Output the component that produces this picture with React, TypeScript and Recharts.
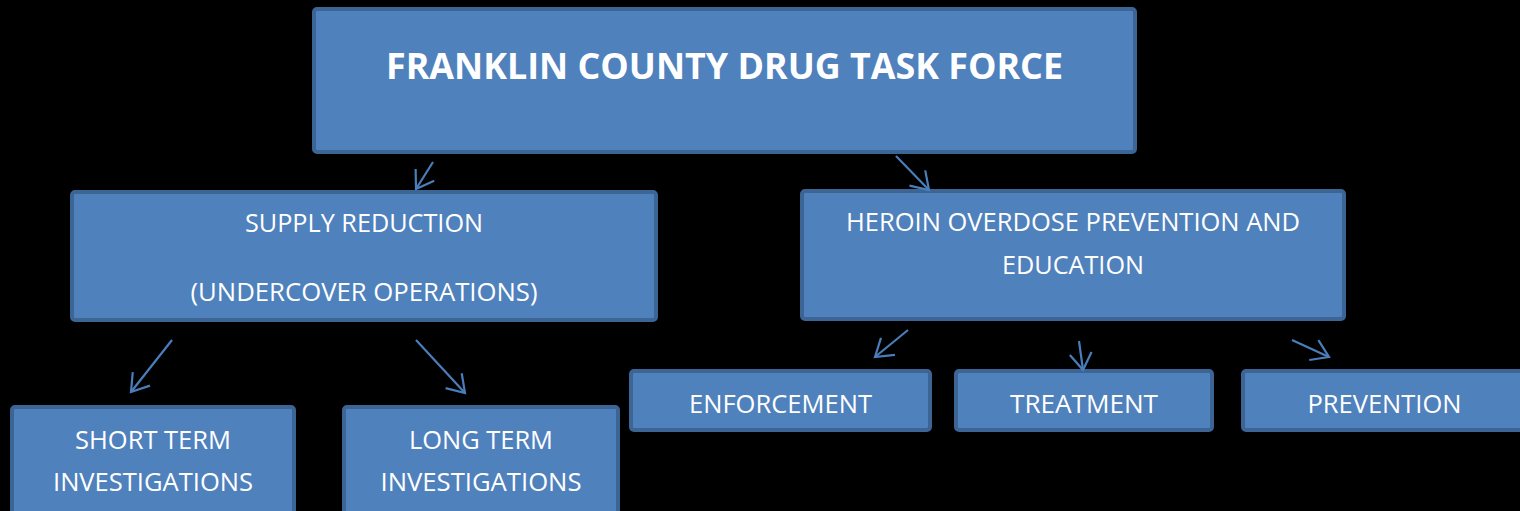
import React from 'react';
import {
  ScatterChart,
  Scatter,
  XAxis,
  YAxis,
  ReferenceArea,
  ReferenceLine,
} from 'recharts';

// org chart content
const nodeIds = ['root', 'supply', 'heroin', 'shortTerm', 'longTerm', 'enforcement', 'treatment', 'prevention'];
const nodeLines = [
  ['FRANKLIN COUNTY DRUG TASK FORCE'],
  ['SUPPLY REDUCTION', '(UNDERCOVER OPERATIONS)'],
  ['HEROIN OVERDOSE PREVENTION AND', 'EDUCATION'],
  ['SHORT TERM', 'INVESTIGATIONS'],
  ['LONG TERM', 'INVESTIGATIONS'],
  ['ENFORCEMENT'],
  ['TREATMENT'],
  ['PREVENTION'],
];
const nodeParents = [-1, 0, 0, 1, 1, 2, 2, 2];

// layout, in chart units (x: 0..1520, y: 0..511 top-down)
const boxes = [
  [314, 1135, 9, 152],
  [72, 656, 192, 320],
  [802, 1344, 191, 319],
  [12, 294, 407, 540],
  [344, 618, 407, 540],
  [631, 930, 371, 430],
  [956, 1212, 371, 430],
  [1243, 1526, 371, 430],
];
const lineY = [[65], [222, 291], [221, 264], [439, 481], [439, 481], [403], [403], [403]];
const lineWidth = [[677], [238, 347], [454, 142], [156, 200], [144, 201], [183], [148], [154]];
// arrow from parent to child, indexed by child
const arrowSegs: Record<number, number[]> = {
  1: [433, 162, 416, 189],
  2: [896, 156, 929, 190],
  3: [172, 340, 131, 392],
  4: [416, 340, 465, 393],
  5: [908, 330, 875, 357],
  6: [1079, 341, 1083, 370],
  7: [1292, 340, 1329, 357],
};

const FILL = '#4f81bd';
const BORDER = '#3c6494';
const ARROW = '#4a7ebb';

const labelData = nodeIds.flatMap((id, i) =>
  nodeLines[i].map((text, j) => ({
    id: `${id}-${j}`,
    x: (boxes[i][0] + boxes[i][1]) / 2,
    y: lineY[i][j],
    text,
    w: lineWidth[i][j],
    bold: i === 0,
  }))
);

const LabelShape = (props: any) => {
  const { cx, cy, payload } = props;
  return (
    <text
      x={cx}
      y={cy}
      textAnchor="middle"
      dominantBaseline="central"
      fill="#ffffff"
      fontFamily="'Open Sans', sans-serif"
      fontWeight={payload.bold ? 700 : 400}
      fontSize={payload.bold ? 36 : 26}
      textLength={payload.w}
      lengthAdjust="spacingAndGlyphs"
    >
      {payload.text}
    </text>
  );
};

const ArrowShape = (props: any) => {
  const { x1, y1, x2, y2 } = props;
  const a = Math.atan2(y2 - y1, x2 - x1);
  const len = 20;
  const s = 0.58;
  const p1 = [x2 - len * Math.cos(a - s), y2 - len * Math.sin(a - s)];
  const p2 = [x2 - len * Math.cos(a + s), y2 - len * Math.sin(a + s)];
  return (
    <g>
      <line x1={x1} y1={y1} x2={x2} y2={y2} stroke={ARROW} strokeWidth={2.2} />
      <polyline
        points={`${p1[0]},${p1[1]} ${x2},${y2} ${p2[0]},${p2[1]}`}
        fill="none"
        stroke={ARROW}
        strokeWidth={2.2}
      />
    </g>
  );
};

export default function App() {
  return (
    <div style={{ width: 1520, height: 511, background: '#000' }}>
      <style>{`body{margin:0;background:#000;}`}</style>
      <ScatterChart width={1520} height={511} margin={{ top: 0, right: 0, bottom: 0, left: 0 }}>
        <XAxis type="number" dataKey="x" domain={[0, 1520]} hide allowDataOverflow />
        <YAxis type="number" dataKey="y" domain={[0, 511]} reversed hide allowDataOverflow />
        {nodeIds.map((id, i) => (
          <ReferenceArea
            key={id}
            x1={boxes[i][0]}
            x2={boxes[i][1]}
            y1={boxes[i][2]}
            y2={boxes[i][3]}
            fill={FILL}
            fillOpacity={1}
            stroke={BORDER}
            strokeWidth={4}
            radius={3}
            ifOverflow="hidden"
          />
        ))}
        {nodeParents.map((p, i) =>
          p < 0 ? null : (
            <ReferenceLine
              key={`arrow-${i}`}
              segment={[
                { x: arrowSegs[i][0], y: arrowSegs[i][1] },
                { x: arrowSegs[i][2], y: arrowSegs[i][3] },
              ]}
              shape={ArrowShape}
              ifOverflow="visible"
            />
          )
        )}
        <Scatter data={labelData} shape={LabelShape} isAnimationActive={false} />
      </ScatterChart>
    </div>
  );
}
